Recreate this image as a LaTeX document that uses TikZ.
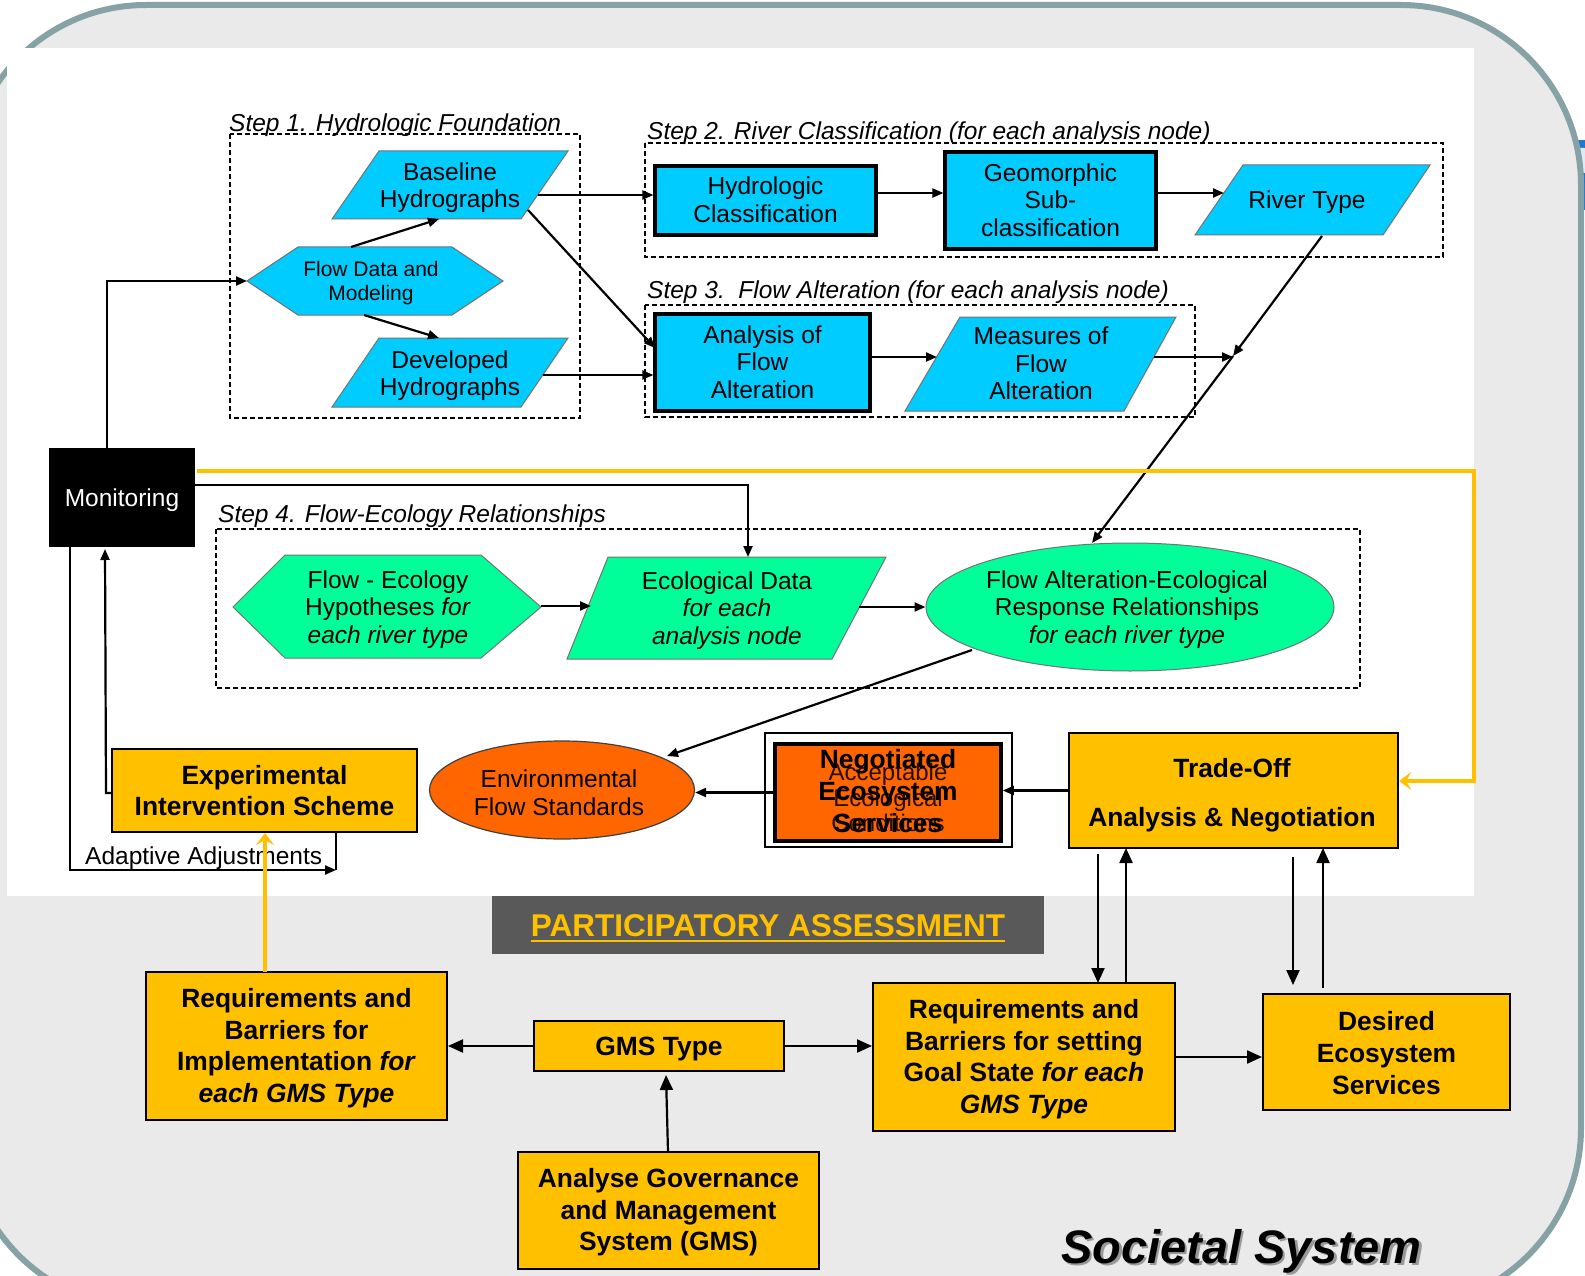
\documentclass[tikz,border=0pt]{standalone}
\usepackage{fontspec}
\setmainfont{Liberation Sans}
\usetikzlibrary{arrows.meta,shapes.geometric}
\definecolor{cy}{HTML}{00CCFF}
\definecolor{gr}{HTML}{00FF99}
\definecolor{yl}{HTML}{FFC000}
\definecolor{org}{HTML}{FF6600}
\definecolor{bgg}{HTML}{EAEAEA}
\definecolor{brd}{HTML}{87A2A5}
\definecolor{dgr}{HTML}{595959}
\definecolor{blu}{HTML}{2277CC}
\definecolor{acc}{HTML}{2A1000}
\tikzset{
 rt/.style={font=\fontsize{24.5}{27.6}\selectfont, align=center, inner sep=0pt, yshift=-2.5pt},
 rtsm/.style={font=\fontsize{21}{24}\selectfont, align=center, inner sep=0pt, yshift=-2.5pt},
 bt/.style={font=\fontsize{26.4}{31.6}\selectfont\bfseries, align=center, inner sep=0pt},
 ttl/.style={font=\fontsize{24.5}{27.6}\selectfont\itshape, anchor=base west, inner sep=0pt},
 cbox/.style={draw=black, line width=3.2pt, fill=cy},
 cshape/.style={draw=black!55, line width=1pt, fill=cy},
 gshape/.style={draw=black!55, line width=1pt, fill=gr},
 ybox/.style={draw=black, line width=2pt, fill=yl},
 dbox/.style={draw=black, line width=1.2pt, dash pattern=on 5pt off 3pt},
 arr/.style={line width=2.2pt, -{Triangle[length=11pt,width=9pt]}},
 ln/.style={line width=2.2pt},
 barr/.style={line width=2.2pt, -{Triangle[length=15pt,width=13pt]}},
 yarr/.style={color=yl, line width=4pt, -{Stealth[length=12pt,width=18pt,inset=5pt]}},
}
\begin{document}
\begin{tikzpicture}[x=1pt,y=-1pt]
\useasboundingbox (0,0) rectangle (1585,1276);
\begin{scope}
\clip (0,0) rectangle (1585,1276);
\fill[white] (0,0) rectangle (1585,1276);
% fragment of a blue element at the right edge
\fill[blu] (1562,140) rectangle (1590,210);
\fill[white!85!blu, rounded corners=8pt] (1572,148) rectangle (1592,173);
% background panel
\draw[brd, line width=6pt, fill=bgg, rounded corners=180pt] (-34,5) rectangle (1581,1308);
\fill[white] (7,48) rectangle (1474,896);

% ---------- dashed step frames and titles
\draw[dbox] (230,134) rectangle (580,418);
\draw[dbox] (645,143) rectangle (1443,257);
\draw[dbox] (645,305) rectangle (1195,417);
\draw[dbox] (216,529) rectangle (1360,688);
\node[ttl] (t1) at (229,132) {Step 1. Hydrologic Foundation};
\node[ttl] (t2) at (647,140) {Step 2. River Classification (for each analysis node)};
\node[ttl] (t3) at (647,298) {Step 3.\ \ Flow Alteration (for each analysis node)};
\node[ttl] (t4) at (218,522) {Step 4. Flow-Ecology Relationships};

% ---------- Step 1
\draw[cshape] (379,151) -- (568,151) -- (521,219) -- (332,219) -- cycle;
\node[rt] (bh) at (450,185) {Baseline\\Hydrographs};
\draw[cshape] (247,281) -- (298,247) -- (452,247) -- (503,281) -- (452,315) -- (298,315) -- cycle;
\node[rtsm] (fd) at (371,281) {Flow Data and\\Modeling};
\draw[cshape] (379,338) -- (568,338) -- (521,407) -- (332,407) -- cycle;
\node[rt] (dh) at (450,373) {Developed\\Hydrographs};

% ---------- Step 2
\node[cbox, minimum width=221pt, minimum height=69pt] (hc) at (765.5,200.5) {};
\node[rt, yshift=3pt] (hct) at (765.5,200.5) {Hydrologic\\Classification};
\node[cbox, minimum width=211pt, minimum height=97pt] (geo) at (1050.5,200.5) {};
\node[rt, yshift=3pt] (geot) at (1050.5,200.5) {Geomorphic\\Sub-\\classification};
\draw[cshape] (1243,165) -- (1430,165) -- (1383,235) -- (1195,235) -- cycle;
\node[rt] (rtype) at (1307,200) {River Type};

% ---------- Step 3
\node[cbox, minimum width=215pt, minimum height=97pt] (afa) at (762.5,362.5) {};
\node[rt, yshift=3pt] (afat) at (762.5,362.5) {Analysis of\\Flow\\Alteration};
\draw[cshape] (960,317) -- (1176,317) -- (1124,411) -- (905,411) -- cycle;
\node[rt, yshift=3pt] (mfa) at (1041,364) {Measures of\\Flow\\Alteration};

% ---------- Step 4
\draw[gshape] (233,607) -- (285,555) -- (481,555) -- (541,607) -- (481,658) -- (285,658) -- cycle;
\node[rt] (hyp) at (388,607) {Flow - Ecology\\Hypotheses \textit{for}\\\textit{each river type}};
\draw[gshape] (608,557) -- (886,557) -- (832,659) -- (567,659) -- cycle;
\node[rt] (eco) at (727,608) {Ecological Data\\\textit{for each}\\\textit{analysis node}};
\node[ellipse, gshape, minimum width=408pt, minimum height=128pt] (far) at (1130,607) {};
\node[rt] (fart) at (1127,607) {Flow Alteration-Ecological\\Response Relationships\\\textit{for each river type}};

% ---------- middle row
\node[fill=black, minimum width=146pt, minimum height=99pt] (mon) at (122,497.5) {};
\node[rt, text=white] (mont) at (122,497.5) {Monitoring};
\node[ybox, minimum width=305pt, minimum height=83pt] (exp) at (264.5,790.5) {};
\node[bt] (expt) at (264.5,790.5) {Experimental\\Intervention Scheme};
\node[ellipse, draw=black!75, line width=1.2pt, fill=org, minimum width=265pt, minimum height=98pt] (env) at (562,790) {};
\node[rt] (envt) at (559,790) {Environmental\\Flow Standards};
\node[draw=black, line width=1.8pt, fill=white, minimum width=247pt, minimum height=114pt] (nego) at (888.5,790) {};
\node[draw=black, line width=3.5pt, fill=org, minimum width=226pt, minimum height=97pt] (negi) at (888,792.5) {};
\node[rt, font=\fontsize{24}{25.5}\selectfont, text=acc] (acc) at (888,795) {Acceptable\\Ecological\\Conditions};
\node[bt, yshift=1pt] (negt) at (888,792) {Negotiated\\Ecosystem\\Services};
\node[ybox, line width=2.4pt, minimum width=329pt, minimum height=115pt] (trade) at (1233.5,790.5) {};
\node[bt, yshift=-5pt] (tradet) at (1232,790.5) {Trade-Off\\[17pt]Analysis \& Negotiation};
\node[font=\fontsize{24.5}{27.6}\selectfont, anchor=west, inner sep=0pt] (adj) at (85,858) {Adaptive Adjustments};

% ---------- participatory part
\node[fill=dgr, minimum width=552pt, minimum height=58pt, inner sep=0pt] (pabox) at (768,925) {};
\node[font=\fontsize{31.5}{35}\selectfont\bfseries, text=yl, anchor=base, inner sep=0pt] (pa) at (768,936) {PARTICIPATORY ASSESSMENT};
\draw[yl, line width=2.5pt] ([yshift=-5pt]pa.base west) -- ([yshift=-5pt]pa.base east);
\node[ybox, minimum width=301pt, minimum height=148pt] (req1) at (296.5,1046) {};
\node[bt, yshift=-2pt] (req1t) at (296.5,1046) {Requirements and\\Barriers for\\Implementation \textit{for}\\\textit{each GMS Type}};
\node[ybox, minimum width=250pt, minimum height=50pt] (gms) at (659,1046) {};
\node[bt, yshift=-3pt] (gmst) at (659,1046) {GMS Type};
\node[ybox, minimum width=302pt, minimum height=148pt] (req2) at (1024,1057) {};
\node[bt, yshift=-2pt] (req2t) at (1024,1057) {Requirements and\\Barriers for setting\\Goal State \textit{for each}\\\textit{GMS Type}};
\node[ybox, minimum width=301pt, minimum height=117pt] (anal) at (668.5,1210.5) {};
\node[bt, yshift=-2pt] (analt) at (668.5,1210.5) {Analyse Governance\\and Management\\System (GMS)};
\node[ybox, minimum width=247pt, minimum height=116pt] (des) at (1386.5,1052) {};
\node[bt, yshift=-1pt] (dest) at (1386.5,1052) {Desired\\Ecosystem\\Services};
\node[font=\fontsize{47}{50}\selectfont\bfseries\itshape, text=black!40, anchor=base west, inner sep=0pt] (sssh) at (1063.5,1265.5) {Societal System};
\node[font=\fontsize{47}{50}\selectfont\bfseries\itshape, anchor=base west, inner sep=0pt] (ss) at (1061,1263) {Societal System};

% ---------- connector end points
\coordinate (monT) at (107,448);
\coordinate (fdW) at (247,281);
\coordinate (fdT) at (351,247);
\coordinate (fdB) at (364,315);
\coordinate (bhB) at (439,219);
\coordinate (dhT) at (439,338);
\coordinate (bhR) at (538,195);
\coordinate (bhR2) at (528,210);
\coordinate (afaA) at (655,348);
\coordinate (dhR) at (543,375);
\coordinate (rtL) at (1224,193);
\coordinate (rtB) at (1322,236);
\coordinate (junc) at (1233,356);
\coordinate (mfaR) at (1154,357);
\coordinate (mfaL) at (937,357);
\coordinate (farT) at (1092,543);
\coordinate (hypR) at (541,606);
\coordinate (ecoL) at (591,606);
\coordinate (ecoR) at (859,607);
\coordinate (ecoT) at (748,557);
\coordinate (monR) at (195,485);
\coordinate (monRy) at (197,471);
\coordinate (ycorner) at (1474,471);
\coordinate (farBL) at (972,650);
\coordinate (envA) at (667,756);
\coordinate (monB1) at (70,547);
\coordinate (monB2) at (105,549);
\coordinate (adR) at (336,870);
\coordinate (yreq) at (265,972);
\coordinate (anT) at (668,1152);
\coordinate (gmsB) at (666,1075);
\coordinate (d1a) at (1098,854);
\coordinate (d1b) at (1098,983);
\coordinate (u1a) at (1126,983);
\coordinate (u1b) at (1126,848);
\coordinate (d2a) at (1293,857);
\coordinate (d2b) at (1293,985);
\coordinate (u2a) at (1323,988);
\coordinate (u2b) at (1323,848);

% ---------- connectors
\draw[arr] (monT) |- (fdW);
\draw[arr] (fdT) -- (bhB);
\draw[arr] (fdB) -- (dhT);
\draw[arr] (bhR) -- (bhR -| hc.west);
\draw[arr] (bhR2) -- (afaA);
\draw[arr] (dhR) -- (dhR -| afa.west);
\draw[arr] ([yshift=7.5pt]hc.east) -- ([yshift=7.5pt]hc.east -| geo.west);
\draw[arr] ([yshift=7.5pt]geo.east) -- (rtL);
\draw[arr] ([yshift=5.5pt]afa.east) -- (mfaL);
\draw[arr] (mfaR) -- (mfaR -| junc);
\draw[arr] (rtB) -- (junc);
\draw[arr] (junc) -- (farT);
\draw[arr] (hypR) -- (ecoL);
\draw[arr] (ecoR) -- (ecoR -| far.west);
\draw[arr] (monR) -| (ecoT);
\draw[yarr] (monRy) -- (ycorner) |- ([yshift=9.5pt]trade.east);
\draw[arr] (farBL) -- (envA);
\draw[arr] (trade.west) -- (trade.west -| negi.east);
\draw[arr] (negi.west) -- (negi.west -| env.east);
\draw[arr] ([yshift=-2.5pt]exp.west) -- ++(-5,0) -- (monB2);
\draw[arr] (monB1) |- (adR);
\draw[ln] (adR |- exp.south) -- (adR);
\draw[yarr] (yreq) -- (yreq |- exp.south);
\draw[barr] (gms.west) -- (req1.east);
\draw[barr] (gms.east) -- (gms.east -| req2.west);
\draw[barr] (anT) -- (gmsB);
\draw[barr] (req2.east) -- (req2.east -| des.west);
\draw[barr] (d1a) -- (d1b);
\draw[barr] (u1a) -- (u1b);
\draw[barr] (d2a) -- (d2b);
\draw[barr] (u2a) -- (u2b);
\end{scope}
\end{tikzpicture}
\end{document}
